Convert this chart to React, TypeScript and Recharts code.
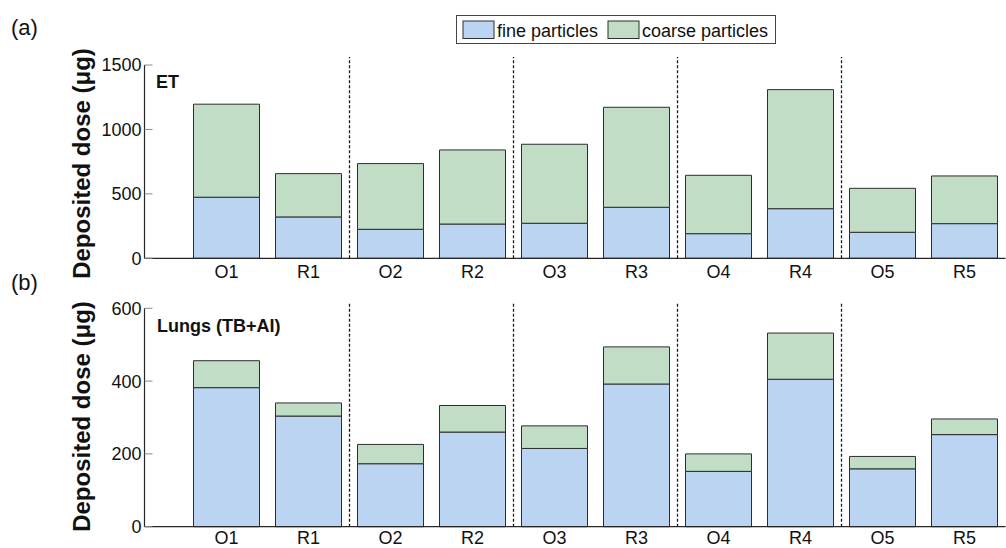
import React from 'react';
import { BarChart, Bar, XAxis, YAxis, ReferenceLine } from 'recharts';

// Sampling sites: O = original, R = replicate
const categories = ['O1', 'R1', 'O2', 'R2', 'O3', 'R3', 'O4', 'R4', 'O5', 'R5'];

// (a) Extrathoracic region, deposited dose in µg
const etFine = [474, 321, 225, 266, 272, 396, 191, 385, 202, 269];
const etCoarse = [722, 336, 510, 575, 613, 776, 453, 924, 341, 370];

// (b) Lungs (tracheobronchial + alveolar-interstitial), deposited dose in µg
const lungFine = [382, 304, 173, 260, 215, 392, 152, 405, 159, 253];
const lungCoarse = [74, 36, 53, 73, 62, 102, 48, 127, 34, 43];

const etTicks = [0, 500, 1000, 1500];
const lungTicks = [0, 200, 400, 600];
const xTicks = [1, 2, 3, 4, 5, 6, 7, 8, 9, 10];
const dividers = [2.5, 4.5, 6.5, 8.5];

const FONT = '"Liberation Sans", Arial, Helvetica, sans-serif';
const FINE_COLOR = '#bad4f2';
const COARSE_COLOR = '#c2ddc6';
const EDGE = '#2e2e2e';
const AXIS = '#262626';

const buildRows = (fine: number[], coarse: number[]) =>
  categories.map((name, i) => ({ x: i + 1, name, fine: fine[i], coarse: coarse[i] }));

const etRows = buildRows(etFine, etCoarse);
const lungRows = buildRows(lungFine, lungCoarse);

const YTick = (props: any) => {
  const { x, y, payload } = props;
  return (
    <g>
      <line x1={x + 3} x2={x + 11} y1={y} y2={y} stroke="#8a8a8a" strokeWidth={1} />
      <text x={x} y={y} dy="0.36em" textAnchor="end" fontSize={18} fill="#111" fontFamily={FONT}>
        {payload.value}
      </text>
    </g>
  );
};

const XTick = (props: any) => {
  const { x, y, payload } = props;
  return (
    <text x={x} y={y} dy="0.71em" textAnchor="middle" fontSize={18} fill="#111" fontFamily={FONT}>
      {categories[payload.value - 1]}
    </text>
  );
};

type PanelProps = {
  rows: any[];
  ticks: number[];
  yMax: number;
  dividerTop: number;
  height: number;
  top: number;
  marginTop: number;
  marginBottom: number;
  xHeight: number;
  labelGap: number;
};

const Panel = ({
  rows,
  ticks,
  yMax,
  dividerTop,
  height,
  top,
  marginTop,
  marginBottom,
  xHeight,
  labelGap,
}: PanelProps) => (
  <div style={{ position: 'absolute', left: 0, top }}>
    <BarChart
      width={1006}
      height={height}
      data={rows}
      margin={{ top: marginTop, right: 0.5, bottom: marginBottom, left: 84.5 }}
    >
      <XAxis
        dataKey="x"
        type="number"
        domain={[0, 10.5]}
        ticks={xTicks}
        allowDataOverflow
        height={xHeight}
        tickLine={false}
        tickSize={0}
        tickMargin={labelGap}
        axisLine={{ stroke: AXIS, strokeWidth: 1.2 }}
        tick={<XTick />}
        interval={0}
      />
      <YAxis
        type="number"
        domain={[0, yMax]}
        ticks={ticks}
        width={60}
        tickLine={false}
        tickSize={0}
        tickMargin={3}
        axisLine={{ stroke: AXIS, strokeWidth: 1.2 }}
        tick={<YTick />}
        interval={0}
      />
      {dividers.map((d) => (
        <ReferenceLine
          key={d}
          segment={[
            { x: d, y: 0 },
            { x: d, y: dividerTop },
          ]}
          ifOverflow="visible"
          stroke="#1a1a1a"
          strokeWidth={1.3}
          strokeDasharray="3 2"
        />
      ))}
      <Bar
        dataKey="fine"
        stackId="dose"
        fill={FINE_COLOR}
        stroke={EDGE}
        strokeWidth={1}
        barSize={66}
        isAnimationActive={false}
      />
      <Bar
        dataKey="coarse"
        stackId="dose"
        fill={COARSE_COLOR}
        stroke={EDGE}
        strokeWidth={1}
        barSize={66}
        isAnimationActive={false}
      />
    </BarChart>
  </div>
);

const Annotations = () => (
  <svg
    width={1006}
    height={548}
    style={{ position: 'absolute', left: 0, top: 0, pointerEvents: 'none' }}
    fontFamily={FONT}
  >
    <text x={11} y={35} fontSize={22} fill="#111">(a)</text>
    <text x={11} y={290} fontSize={22} fill="#111">(b)</text>

    <text
      transform="translate(90,163.5) rotate(-90)"
      textAnchor="middle"
      fontSize={24}
      fontWeight="bold"
      fill="#111"
    >
      Deposited dose (μg)
    </text>
    <text
      transform="translate(90,416.5) rotate(-90)"
      textAnchor="middle"
      fontSize={24}
      fontWeight="bold"
      fill="#111"
    >
      Deposited dose (μg)
    </text>

    <text x={156} y={87.5} fontSize={18} fontWeight="bold" fill="#111">ET</text>
    <text x={157} y={331.5} fontSize={18} fontWeight="bold" fill="#111">Lungs (TB+AI)</text>

    <rect x={456.5} y={15.5} width={319} height={28} fill="#fff" stroke="#444" strokeWidth={1} />
    <rect x={463} y={21} width={31} height={17.5} fill={FINE_COLOR} stroke={EDGE} strokeWidth={1} />
    <text x={497} y={36.5} fontSize={18} fill="#111">fine particles</text>
    <rect x={608} y={21} width={31} height={17.5} fill={COARSE_COLOR} stroke={EDGE} strokeWidth={1} />
    <text x={642} y={36.5} fontSize={18} fill="#111">coarse particles</text>
  </svg>
);

export default function App() {
  return (
    <div
      style={{
        position: 'absolute',
        left: 0,
        top: 0,
        width: 1006,
        height: 548,
        background: '#fff',
        fontFamily: FONT,
        overflow: 'hidden',
      }}
    >
      <Panel
        rows={etRows}
        ticks={etTicks}
        yMax={1500}
        dividerTop={1562}
        height={290}
        top={0}
        marginTop={65}
        marginBottom={6.7}
        xHeight={25}
        labelGap={6.5}
      />
      <Panel
        rows={lungRows}
        ticks={lungTicks}
        yMax={600}
        dividerTop={614}
        height={258}
        top={290}
        marginTop={18.3}
        marginBottom={1.3}
        xHeight={20}
        labelGap={5}
      />
      <Annotations />
    </div>
  );
}
